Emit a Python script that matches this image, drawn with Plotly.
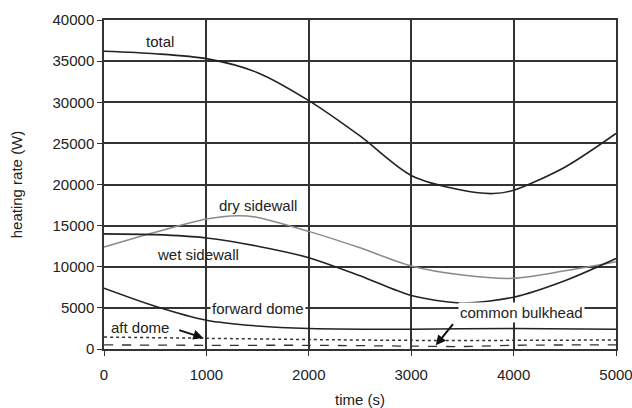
import plotly.graph_objects as go

t_total = [0, 500, 1000, 1500, 2000, 2500, 3000, 3500, 3800, 4000, 4500, 5000]
total = [36200, 35900, 35300, 33600, 30200, 25900, 21100, 19300, 18900, 19300, 22100, 26200]

t_dry = [0, 500, 1000, 1300, 1500, 2000, 2500, 3000, 3500, 4000, 4500, 5000]
dry = [12400, 14200, 15800, 16200, 16000, 14300, 12300, 10100, 9000, 8600, 9500, 10600]

t_wet = [0, 500, 1000, 1500, 2000, 2500, 3000, 3500, 4000, 4500, 5000]
wet = [14000, 13900, 13500, 12500, 11100, 8900, 6500, 5600, 6300, 8300, 11000]

t_fwd = [0, 500, 1000, 1500, 2000, 3000, 4000, 5000]
fwd = [7400, 5200, 3500, 2800, 2500, 2400, 2500, 2400]

t_aft = [0, 1000, 2000, 3000, 4000, 5000]
aft = [1450, 1300, 1150, 1050, 1050, 1100]

t_cb = [0, 1000, 2000, 3000, 3500, 4000, 5000]
cb = [500, 450, 450, 350, 300, 450, 500]

x_ticks = [0, 1000, 2000, 3000, 4000, 5000]
y_ticks = [0, 5000, 10000, 15000, 20000, 25000, 30000, 35000, 40000]

fig = go.Figure()
def add(x, y, color, dash, width):
    fig.add_trace(go.Scatter(x=x, y=y, mode="lines", line=dict(color=color, dash=dash, width=width, shape="spline", smoothing=0.8), showlegend=False, hoverinfo="skip"))

add(t_total, total, "#222", "solid", 1.6)
add(t_dry, dry, "#8a8a8a", "solid", 1.5)
add(t_wet, wet, "#222", "solid", 1.6)
add(t_fwd, fwd, "#222", "solid", 1.5)
add(t_aft, aft, "#333", "dot", 1.5)
add(t_cb, cb, "#333", "dash", 1.3)

font = dict(family="Liberation Sans, Arial, sans-serif", size=15, color="#222")
ann = [
    dict(x=550, y=37400, text="total", showarrow=False),
    dict(x=1500, y=17400, text="dry sidewall", showarrow=False),
    dict(x=920, y=11500, text="wet sidewall", showarrow=False),
    dict(x=1500, y=4960, text="forward dome", showarrow=False, bgcolor="white"),
    dict(x=350, y=2660, text="aft dome", showarrow=False),
    dict(x=4080, y=4480, text="common bulkhead", showarrow=False, bgcolor="white"),
]
annotations = [dict(a, xref="x", yref="y", font=font) for a in ann]
annotations.append(dict(x=970, y=1350, ax=720, ay=2350, xref="x", yref="y", axref="x", ayref="y",
                        text="", showarrow=True, arrowhead=2, arrowsize=1, arrowwidth=2, arrowcolor="#111"))
annotations.append(dict(x=3240, y=450, ax=3420, ay=3200, xref="x", yref="y", axref="x", ayref="y",
                        text="", showarrow=True, arrowhead=2, arrowsize=1, arrowwidth=2, arrowcolor="#111"))

fig.update_layout(
    width=632, height=408,
    margin=dict(l=104, r=16, t=20, b=59),
    paper_bgcolor="white", plot_bgcolor="white",
    font=font,
    annotations=annotations,
    xaxis=dict(range=[0, 5000], tickvals=x_ticks, ticktext=[str(v) for v in x_ticks],
               showgrid=True, gridcolor="#333", gridwidth=1.5, zeroline=False,
               showline=True, linecolor="#333", linewidth=1.5, mirror=True,
               ticks="outside", ticklen=5, tickcolor="#333", ticklabelstandoff=6,
               ticklabeloverflow="allow", automargin=False,
               title=dict(text="time (s)", font=dict(size=15), standoff=15)),
    yaxis=dict(range=[0, 40000], tickvals=y_ticks, ticktext=[str(v) for v in y_ticks],
               showgrid=True, gridcolor="#333", gridwidth=1.5, zeroline=False,
               showline=True, linecolor="#333", linewidth=1.5, mirror=True,
               ticks="outside", ticklen=5, tickcolor="#333",
               ticklabeloverflow="allow", automargin=False,
               title=dict(text="heating rate (W)", font=dict(size=15), standoff=26)),
)
fig.write_html("out.html")
